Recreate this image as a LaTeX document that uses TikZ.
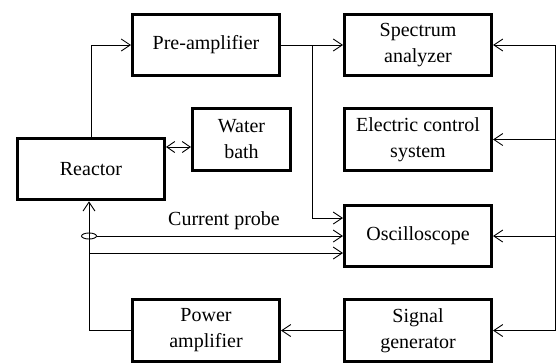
\documentclass[tikz,border=0pt]{standalone}
\usepackage{fontspec}
\setmainfont{Liberation Serif}
\usetikzlibrary{arrows.meta,shapes.geometric,calc}
\begin{document}
\begin{tikzpicture}[x=1pt,y=-1pt,
  box/.style={draw,line width=3pt,minimum width=147pt,minimum height=61.5pt,inner sep=0pt,align=center,font=\fontsize{20}{26}\selectfont},
  conn/.style={line width=0.9pt},
  arr/.style={conn,-{Straight Barb[length=9pt,width=12pt,line width=0.9pt]}},
  darr/.style={conn,{Straight Barb[length=8pt,width=11pt,line width=0.9pt]}-{Straight Barb[length=8pt,width=11pt,line width=0.9pt]}}]
\useasboundingbox (0,0) rectangle (556,362);
\node[box] (reactor) at (91,169) {Reactor};
\node[box] (pre) at (206,45) {Pre-amplifier};
\node[box,minimum width=98pt] (wb) at (241.5,139.5) {Water\\bath};
\node[box] (spec) at (418,45) {Spectrum\\analyzer};
\node[box] (ecs) at (418,139.5) {Electric control\\system};
\node[box] (osc) at (418,236) {Oscilloscope};
\node[box] (pa) at (206,330.5) {Power\\amplifier};
\node[box] (sg) at (418,330.5) {Signal\\generator};
% reactor -> pre-amp
\draw[arr] (reactor.north) |- (pre.west);
% pre-amp -> spectrum
\draw[arr] (pre.east) -- (spec.west);
\coordinate (br) at (312,45);
\draw[arr] (br) |- ($(osc.west)+(0,-18)$);
% water bath
\draw[darr] (reactor.east |- 0,147) -- (wb.west |- 0,147);
% current probe
\node[draw,ellipse,line width=0.9pt,minimum width=15pt,minimum height=6pt,inner sep=0pt] (probe) at (89,236) {};
\draw[arr] (probe.east) -- (probe.east -| osc.west);
\node[font=\fontsize{20}{24}\selectfont] (cplabel) at (224,221) {Current probe};
\coordinate (j) at (89,253);
\draw[arr] (j) -- (j -| osc.west);
% power amp loop
\coordinate (c1) at (89,330.5);
\draw[arr] (pa.west) -- (c1) -- (c1 |- reactor.south);
\draw[arr] (sg.west) -- (pa.east);
% right bus
\coordinate (rt) at (555,45);
\coordinate (rb) at (555,330.5);
\draw[conn] (rt) -- (rb);
\draw[arr] (rt) -- (spec.east);
\draw[arr] (rt |- ecs.east) -- (ecs.east);
\draw[arr] (rt |- osc.east) -- (osc.east);
\draw[arr] (rb) -- (sg.east);
\end{tikzpicture}
\end{document}
